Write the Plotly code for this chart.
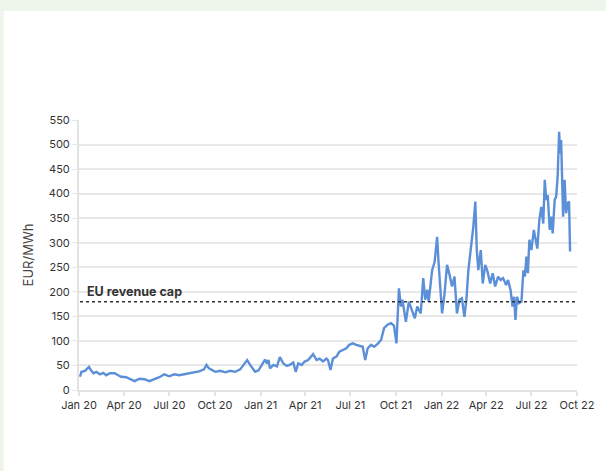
import plotly.graph_objects as go

dates = [
    "2020-01-03", "2020-01-06", "2020-01-13", "2020-01-16", "2020-01-21", "2020-01-26", "2020-01-30",
    "2020-02-05", "2020-02-12", "2020-02-19", "2020-02-25", "2020-03-03", "2020-03-13", "2020-03-20",
    "2020-03-26", "2020-04-05", "2020-04-15", "2020-04-22", "2020-05-02", "2020-05-12", "2020-05-22",
    "2020-06-01", "2020-06-11", "2020-06-21", "2020-07-01", "2020-07-11", "2020-07-21", "2020-07-31",
    "2020-08-10", "2020-08-20", "2020-08-30", "2020-09-09", "2020-09-14", "2020-09-19", "2020-09-26",
    "2020-10-02", "2020-10-12", "2020-10-22", "2020-11-01", "2020-11-11", "2020-11-21", "2020-11-28",
    "2020-12-05", "2020-12-11", "2020-12-21", "2020-12-28",
    "2021-01-04", "2021-01-10", "2021-01-14", "2021-01-17", "2021-01-20", "2021-01-27", "2021-02-03",
    "2021-02-09", "2021-02-16", "2021-02-23", "2021-03-01", "2021-03-08", "2021-03-13", "2021-03-18",
    "2021-03-25", "2021-03-31", "2021-04-07", "2021-04-14", "2021-04-17", "2021-04-24", "2021-04-30",
    "2021-05-07", "2021-05-14", "2021-05-17", "2021-05-22", "2021-05-27", "2021-06-03", "2021-06-09",
    "2021-06-16", "2021-06-23", "2021-06-29", "2021-07-06", "2021-07-13", "2021-07-19", "2021-07-26",
    "2021-07-31", "2021-08-05", "2021-08-12", "2021-08-18", "2021-08-25", "2021-09-01", "2021-09-07",
    "2021-09-14", "2021-09-21", "2021-09-27", "2021-10-02", "2021-10-07", "2021-10-11", "2021-10-14",
    "2021-10-21", "2021-10-27", "2021-11-03", "2021-11-08", "2021-11-13", "2021-11-20", "2021-11-25",
    "2021-11-29", "2021-12-03", "2021-12-06", "2021-12-10", "2021-12-13", "2021-12-18", "2021-12-23",
    "2021-12-26", "2021-12-30",
    "2022-01-02", "2022-01-07", "2022-01-12", "2022-01-17", "2022-01-22", "2022-01-27", "2022-02-01",
    "2022-02-06", "2022-02-11", "2022-02-16", "2022-02-20", "2022-02-24", "2022-03-03", "2022-03-06",
    "2022-03-10", "2022-03-13", "2022-03-16", "2022-03-21", "2022-03-25", "2022-03-30", "2022-04-03",
    "2022-04-09", "2022-04-14", "2022-04-19", "2022-04-25", "2022-04-30", "2022-05-05", "2022-05-11",
    "2022-05-15", "2022-05-20", "2022-05-24", "2022-05-27", "2022-05-30", "2022-06-02", "2022-06-06",
    "2022-06-11", "2022-06-15", "2022-06-18", "2022-06-21", "2022-06-24", "2022-06-27", "2022-07-01",
    "2022-07-06", "2022-07-09", "2022-07-13", "2022-07-17", "2022-07-21", "2022-07-25", "2022-07-28",
    "2022-07-31", "2022-08-03", "2022-08-07", "2022-08-10", "2022-08-13", "2022-08-17", "2022-08-20",
    "2022-08-23", "2022-08-26", "2022-08-28", "2022-08-30", "2022-09-01", "2022-09-03", "2022-09-06",
    "2022-09-09", "2022-09-12", "2022-09-15", "2022-09-17",
]

prices = [
    27, 37, 39, 42, 47, 39, 34,
    37, 32, 35, 30, 34, 34, 30,
    27, 26, 22, 18, 23, 22, 18,
    22, 26, 32, 28, 32, 30, 32,
    34, 37, 38, 42, 51, 44, 40,
    37, 39, 36, 39, 37, 42, 51,
    61, 51, 37, 40,
    51, 62, 54, 61, 44, 51, 48,
    67, 54, 49, 51, 56, 37, 54,
    51, 58, 61, 69, 73, 61, 64,
    58, 64, 61, 41, 64, 68, 78,
    81, 85, 92, 95, 92, 90, 88,
    61, 85, 92, 88, 94, 102, 126,
    133, 136, 131, 95, 207, 170, 184,
    139, 180, 160, 146, 170, 156, 228,
    184, 204, 180, 217, 244, 261, 312,
    258, 204,
    156, 197, 255, 235, 211, 231, 156,
    184, 187, 149, 184, 244, 299, 333,
    384, 285, 244, 285, 217, 255, 244,
    217, 238, 211, 231, 224, 228, 214,
    224, 204, 170, 190, 143, 190, 177,
    180, 244, 231, 272, 238, 306, 285,
    326, 312, 288, 346, 373, 339, 428,
    387, 397, 326, 353, 319, 387, 394,
    435, 526, 482, 509, 428, 353, 428,
    360, 380, 384, 282,
]

revenue_cap = 180
cap_label = "EU revenue cap"
y_title = "EUR/MWh"
y_ticks = [0, 50, 100, 150, 200, 250, 300, 350, 400, 450, 500, 550]

fig = go.Figure()

fig.add_trace(go.Scatter(
    x=dates, y=prices, mode="lines",
    line=dict(color="#5b8fd8", width=2.4),
    showlegend=False, hoverinfo="x+y",
))

# white card over light green page background
fig.add_shape(type="rect", xref="paper", yref="paper",
              x0=-0.1511, x1=1.06, y0=-0.31, y1=1.4037,
              fillcolor="white", line=dict(width=0), layer="below")

fig.add_shape(type="line", xref="paper", yref="y",
              x0=0.002, x1=1.0, y0=revenue_cap, y1=revenue_cap,
              line=dict(color="#333333", width=1.5, dash="dot"))

fig.add_annotation(text="<b>" + cap_label + "</b>", xref="paper", yref="y",
                   x=0.012, y=revenue_cap, xanchor="left", yanchor="bottom",
                   yshift=1, showarrow=False,
                   font=dict(family="Inter, Lato, sans-serif", size=12.5, color="#333333"))

fig.update_layout(
    width=606, height=471,
    margin=dict(l=79, r=24, t=120, b=81),
    paper_bgcolor="#eef5ea",
    plot_bgcolor="rgba(0,0,0,0)",
    font=dict(family="Inter, Lato, sans-serif", size=11, color="#333333"),
)

fig.update_xaxes(
    type="date", range=["2020-01-01", "2022-10-01"],
    tick0="2020-01-01", dtick="M3", tickformat="%b %y",
    showgrid=False, showline=True, linecolor="#e3e3e3", linewidth=2,
    ticks="outside", ticklen=4, tickcolor="#e3e3e3", tickwidth=1.5,
    tickfont=dict(size=11, color="#333333"),
)

fig.update_yaxes(
    range=[0, 550], tickvals=y_ticks,
    showgrid=True, gridcolor="#e8e8e8", gridwidth=1.5,
    showline=True, linecolor="#e3e3e3", linewidth=2,
    ticks="outside", ticklen=5, tickcolor="#e8e8e8",
    zeroline=False,
    title=dict(text=y_title, font=dict(size=13, color="#444444"), standoff=12),
    tickfont=dict(size=11, color="#333333"),
)

fig.write_html(
    "out.html",
    config={"displayModeBar": False},
    post_script="document.body.style.margin='0';document.body.style.overflow='hidden';",
)
